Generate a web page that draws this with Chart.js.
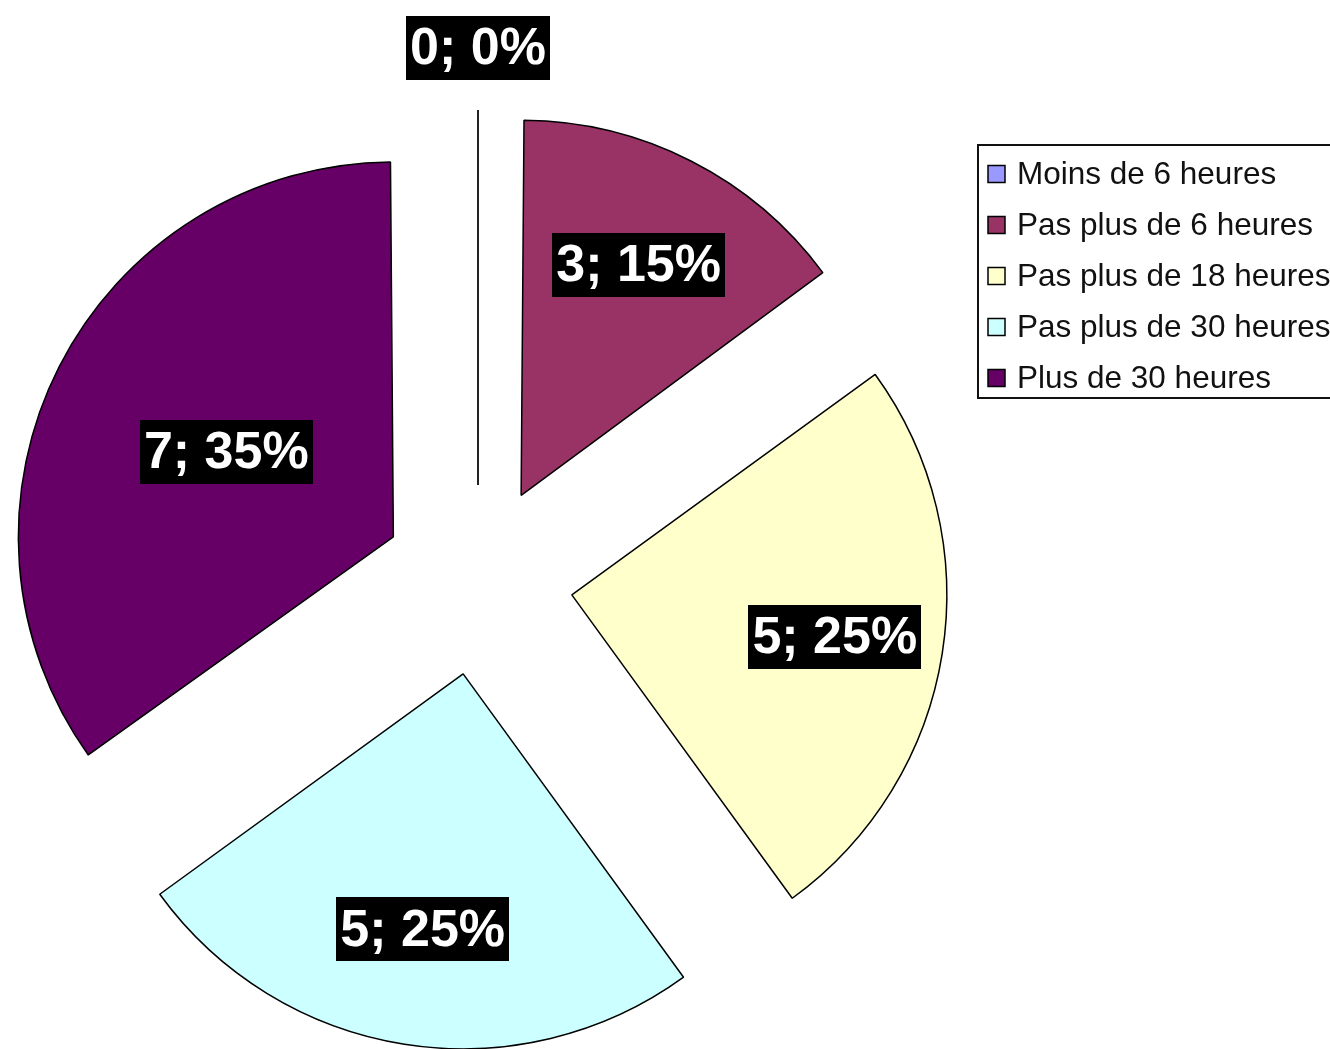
<!DOCTYPE html>
<html>
<head>
<meta charset="utf-8">
<script src="https://cdn.jsdelivr.net/npm/chart.js@4.4.0/dist/chart.umd.min.js"></script>
<style>
  html, body { margin: 0; padding: 0; background: #fff; }
  #wrap { width: 1330px; height: 1049px; position: relative; }
</style>
</head>
<body>
<div id="wrap"><canvas id="pieChart"></canvas></div>
<script>
// data
const categories = ['Moins de 6 heures', 'Pas plus de 6 heures', 'Pas plus de 18 heures', 'Pas plus de 30 heures', 'Plus de 30 heures'];
const counts = [0, 3, 5, 5, 7];
const sliceColors = ['#9999FF', '#993366', '#FFFFCC', '#CCFFFF', '#660066'];

const total = counts.reduce((a, b) => a + b, 0);
const valueLabels = counts.map(v => v + '; ' + Math.round(v / total * 100) + '%');

// how far every slice is pulled out of the pie (px)
const EXPLODE = 95;

// chart.js v4 moves an arc by offset/4, but also grows the radius of
// narrow/wide slices by offset/4 * (1 - sin(circ)). keep all slices the same size.
const arcDraw = Chart.ArcElement.prototype.draw;
Chart.ArcElement.prototype.draw = function (ctx) {
  const off = (this.options.offset || 0) / 4;
  const fix = 1 - Math.sin(Math.min(Math.PI, this.circumference || 0));
  const r = this.outerRadius;
  this.outerRadius = r - off * fix;
  arcDraw.call(this, ctx);
  this.outerRadius = r;
};

function arcShift(arc) {
  return (arc.options.offset || 0) / 4;
}

// black boxes with "n; p%" + the line drawn for an empty slice
const sliceLabels = {
  id: 'sliceLabels',
  afterDatasetsDraw(chart, args, opts) {
    const ctx = chart.ctx;
    const arcs = chart.getDatasetMeta(0).data;
    ctx.save();
    ctx.font = opts.font;
    ctx.textAlign = 'center';
    ctx.textBaseline = 'middle';
    arcs.forEach((arc, i) => {
      const mid = (arc.startAngle + arc.endAngle) / 2;
      const shift = arcShift(arc);
      const ax = arc.x + Math.cos(mid) * shift;
      const ay = arc.y + Math.sin(mid) * shift;

      if (arc.endAngle - arc.startAngle === 0) {
        ctx.strokeStyle = '#222';
        ctx.lineWidth = 2;
        ctx.beginPath();
        ctx.moveTo(ax, ay);
        ctx.lineTo(ax + Math.cos(mid) * arc.outerRadius, ay + Math.sin(mid) * arc.outerRadius);
        ctx.stroke();
      }

      const d = opts.distance[i] * arc.outerRadius;
      const lx = ax + Math.cos(mid) * d;
      const ly = ay + Math.sin(mid) * d;
      const text = valueLabels[i];
      const w = ctx.measureText(text).width + opts.padX * 2;
      const h = opts.boxHeight;
      ctx.fillStyle = '#000';
      ctx.fillRect(Math.round(lx - w / 2), Math.round(ly - h / 2), Math.round(w), h);
      ctx.fillStyle = '#fff';
      ctx.fillText(text, lx, ly + 2);
    });
    ctx.restore();
  }
};

// framed legend at the top right, like the old office chart
const boxLegend = {
  id: 'boxLegend',
  afterDraw(chart, args, opts) {
    const ctx = chart.ctx;
    ctx.save();
    ctx.strokeStyle = '#111';
    ctx.lineWidth = 2;
    ctx.strokeRect(opts.left, opts.top, opts.width, opts.height);
    ctx.font = opts.font;
    ctx.textBaseline = 'middle';
    ctx.textAlign = 'left';
    categories.forEach((name, i) => {
      const y = opts.top + opts.firstRow + i * opts.rowGap;
      const s = opts.boxSize;
      ctx.fillStyle = sliceColors[i];
      ctx.fillRect(opts.left + 10, y - s / 2, s, s);
      ctx.strokeStyle = '#000';
      ctx.lineWidth = 1.5;
      ctx.strokeRect(opts.left + 10, y - s / 2, s, s);
      ctx.fillStyle = '#111';
      ctx.fillText(name, opts.left + 39, y + 1);
    });
    ctx.restore();
  }
};

new Chart(document.getElementById('pieChart'), {
  type: 'pie',
  data: {
    labels: categories,
    datasets: [{
      data: counts,
      backgroundColor: sliceColors,
      borderColor: '#000',
      borderWidth: 1.5,
      offset: EXPLODE * 4,
      hoverOffset: 0
    }]
  },
  options: {
    responsive: true,
    maintainAspectRatio: false,
    animation: false,
    radius: 375,
    layout: { padding: { left: 0, right: 374, top: 111, bottom: 0 } },
    plugins: {
      legend: { display: false },
      tooltip: { enabled: false },
      sliceLabels: {
        font: 'bold 52px "Liberation Sans", Arial, sans-serif',
        padX: 4,
        boxHeight: 64,
        distance: [1.165, 0.69, 0.71, 0.69, 0.5]
      },
      boxLegend: {
        left: 978, top: 145, width: 360, height: 253,
        firstRow: 29, rowGap: 51, boxSize: 17,
        font: '31.5px "Liberation Sans", Arial, sans-serif'
      }
    }
  },
  plugins: [sliceLabels, boxLegend]
});
</script>
</body>
</html>
